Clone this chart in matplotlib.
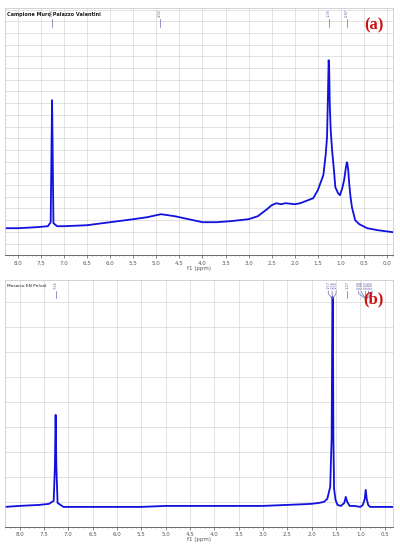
import matplotlib
matplotlib.use("Agg")
import matplotlib.pyplot as plt
from matplotlib.ticker import MultipleLocator
import matplotlib.transforms as mtransforms

# spectrum (a): chemical shift (ppm) and intensity
ppm_a = [8.28, 8.0, 7.6, 7.35, 7.29, 7.275, 7.26, 7.245, 7.23, 7.15, 7.0, 6.5, 6.0, 5.5,
         5.2, 4.9, 4.6, 4.3, 4.0, 3.7, 3.4, 3.0, 2.8, 2.6, 2.5, 2.4, 2.3, 2.2, 2.0, 1.88,
         1.6, 1.5, 1.42, 1.38, 1.33, 1.30, 1.28, 1.265, 1.255, 1.24, 1.22, 1.19, 1.15,
         1.12, 1.06, 1.02, 0.97, 0.93, 0.89, 0.87, 0.86, 0.84, 0.82, 0.79, 0.76, 0.69,
         0.6, 0.43, 0.2, -0.13]
int_a = [27, 27, 28, 29, 33, 95, 155, 95, 32, 29, 29, 30, 33, 36,
         38, 41, 39, 36, 33, 33, 34, 36, 39, 46, 50, 52, 51, 52, 51, 52,
         57, 65, 75, 80, 100, 118, 160, 195, 190, 150, 125, 105, 85,
         68, 62, 60, 67, 75, 88, 93, 92, 85, 72, 58, 48, 35,
         31, 27, 25, 23]
labels_a = ["7.26", "4.92", "1.26", "0.87"]
label_pos_a = [7.26, 4.92, 1.26, 0.87]
peak_pos_a = [7.26, 4.92, 1.26, 0.87]

# spectrum (b)
ppm_b = [8.3, 8.0, 7.6, 7.4, 7.3, 7.275, 7.26, 7.245, 7.22, 7.1, 6.5, 6.0, 5.5, 5.0,
         4.5, 4.0, 3.5, 3.0, 2.5, 2.02, 1.85, 1.75, 1.68, 1.62, 1.59, 1.575, 1.565,
         1.555, 1.54, 1.51, 1.47, 1.40, 1.33, 1.30, 1.27, 1.22, 1.13, 1.0, 0.95, 0.91,
         0.89, 0.87, 0.84, 0.80, 0.7, 0.5, 0.33]
int_b = [20, 21, 22, 23, 26, 60, 112, 60, 24, 20, 20, 20, 20, 21,
         21, 21, 21, 21, 22, 23, 24, 25, 28, 40, 90, 230, 228, 90, 38, 27, 22, 21, 24,
         30, 25, 21, 21, 20, 22, 28, 37, 28, 22, 20, 20, 20, 20]
labels_b = ["7.26", "1.57", "1.56", "1.55", "1.27", "0.90", "0.88", "0.87", "0.86", "0.85"]
label_pos_b = [7.26, 1.66, 1.58, 1.50, 1.27, 1.04, 0.97, 0.90, 0.83, 0.76]
peak_pos_b = [7.26, 1.575, 1.57, 1.565, 1.27, 0.90, 0.89, 0.88, 0.87, 0.86]

fig = plt.figure(figsize=(4, 5.5), dpi=100)
ax1 = fig.add_axes([0.0125, 0.536, 0.97, 0.449])
ax2 = fig.add_axes([0.0125, 0.042, 0.97, 0.449])

specs = [
    (ax1, ppm_a, int_a, (8.28, -0.13), 11.7, labels_a, label_pos_a, peak_pos_a,
     "Campione Muro Palazzo Valentini", True, 3.6, "(a)", 0.965),
    (ax2, ppm_b, int_b, (8.3, 0.33), 25, labels_b, label_pos_b, peak_pos_b,
     "Mosaico EN Pelval", False, 3.2, "(b)", 0.955),
]

for ax, x, y, xl, ystep, labs, lpos, ppos, title, bold, tsize, tag, tag_y in specs:
    ax.plot(x, y, color="#1010e0", lw=1.3)
    ax.set_xlim(*xl)
    ax.set_ylim(0, 247)
    ax.xaxis.set_major_locator(MultipleLocator(0.5))
    ax.xaxis.set_minor_locator(MultipleLocator(0.1))
    ax.yaxis.set_major_locator(MultipleLocator(ystep))
    ax.set_yticklabels([])
    ax.tick_params(axis="y", length=0)
    ax.tick_params(axis="x", labelsize=4, colors="#555555", length=2, width=0.5, pad=2)
    ax.tick_params(axis="x", which="minor", length=1, width=0.4, colors="#777777")
    ax.grid(True, color="#dddddd", lw=0.6)
    ax.set_axisbelow(True)
    for s in ax.spines.values():
        s.set_color("#cccccc")
        s.set_linewidth(0.6)
    ax.spines["bottom"].set_color("#555555")
    ax.set_xlabel("f1 (ppm)", fontsize=4, color="#555555", labelpad=0)
    ax.text(0.005, 0.985, title, transform=ax.transAxes, fontsize=tsize,
            fontweight="bold" if bold else "normal", va="top", ha="left", color="#222222")
    trans = mtransforms.blended_transform_factory(ax.transData, ax.transAxes)
    for lab, p, q in zip(labs, lpos, ppos):
        ax.text(p, 0.997, lab, transform=trans, rotation=90, fontsize=2.6,
                color="#6a6aaa", ha="center", va="top")
        ax.plot([p, p, q], [0.955, 0.945, 0.925], transform=trans, color="#6a6aaa", lw=0.5)
    ax.text(0.975, tag_y, tag, transform=ax.transAxes, fontsize=12,
            fontweight="bold", family="Liberation Serif", color="#cc1111",
            ha="right", va="top")

fig.savefig("out.png", dpi=100)
